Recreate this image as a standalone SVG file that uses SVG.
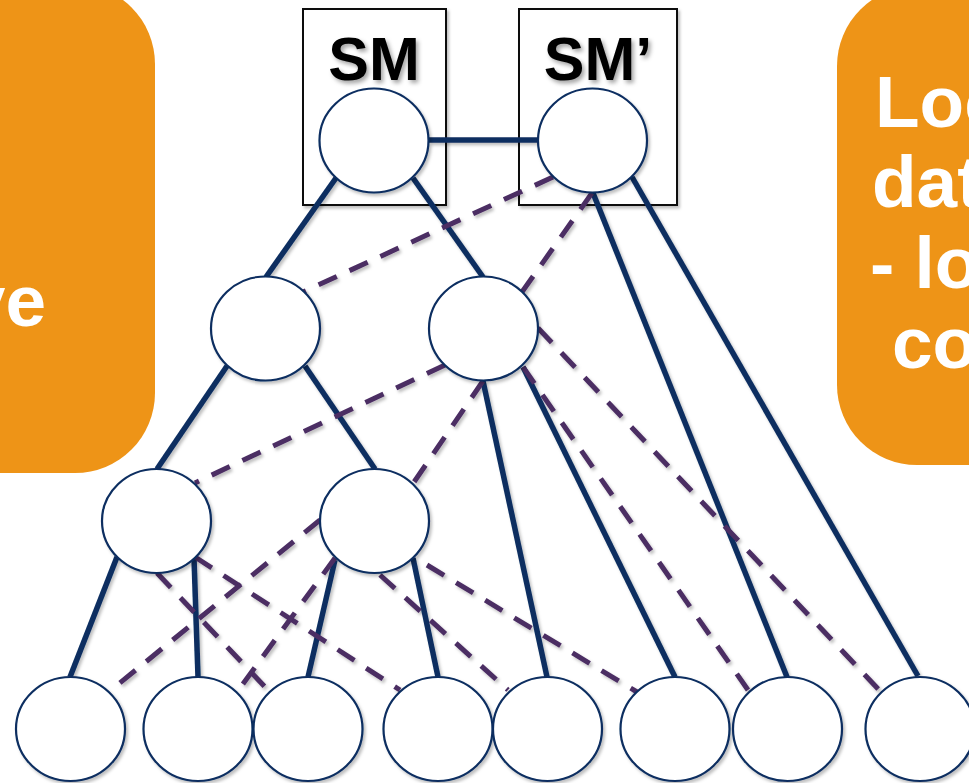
<svg xmlns="http://www.w3.org/2000/svg" width="969" height="783" viewBox="0 0 969 783">
  <defs>
    <filter id="shade" x="-20%" y="-20%" width="140%" height="140%">
      <feDropShadow dx="2" dy="2.5" stdDeviation="1.6" flood-color="#000" flood-opacity="0.25"/>
    </filter>
    <filter id="textShade" x="-20%" y="-20%" width="140%" height="140%">
      <feDropShadow dx="2.5" dy="3" stdDeviation="2" flood-color="#000" flood-opacity="0.35"/>
    </filter>
  </defs>
  <style>
    .callout { fill: #EE9417; }
    .callout-text { fill: #ffffff; font-family: "Liberation Sans", Arial, sans-serif; font-weight: bold; font-size: 73px; }
    .frame { fill: #ffffff; stroke: #111111; stroke-width: 2; }
    .frame-label { fill: #000000; font-family: "Liberation Sans", Arial, sans-serif; font-weight: bold; font-size: 61px; text-anchor: middle; }
    .node { fill: #ffffff; stroke: #0a2d60; stroke-width: 2.2; }
    .edge { stroke: #0a2d60; stroke-width: 5.5; fill: none; }
    .link { stroke: #4b2d63; stroke-width: 5; fill: none; stroke-dasharray: 20 14; }
  </style>

  <!-- side callouts (cropped at the canvas edges) -->
  <g id="callout-left">
    <rect class="callout" x="-200" y="-16" width="355" height="489" rx="80" ry="80"/>
    <text class="callout-text" x="46" y="326" text-anchor="end">ve</text>
  </g>
  <g id="callout-right">
    <rect class="callout" x="837" y="-14" width="300" height="479" rx="80" ry="80"/>
    <text class="callout-text" x="875" y="127">Loc</text>
    <text class="callout-text" x="872" y="207">dat</text>
    <text class="callout-text" x="870" y="288">- lo</text>
    <text class="callout-text" x="892" y="368">co</text>
  </g>

  <!-- SM frames -->
  <g id="frame-sm" filter="url(#shade)">
    <rect class="frame" x="303" y="9" width="143" height="196"/>
  </g>
  <g id="frame-sm-prime" filter="url(#shade)">
    <rect class="frame" x="519" y="9" width="158" height="196"/>
  </g>
  <g id="frame-labels" filter="url(#textShade)">
    <text class="frame-label" x="374" y="80">SM</text>
    <text class="frame-label" x="598" y="80">SM’</text>
  </g>

  <!-- connectors -->
  <g id="connectors" filter="url(#shade)">
    <!-- tree edges -->
    <line class="edge" x1="429" y1="140" x2="538" y2="140"/>
    <line class="edge" x1="336" y1="178" x2="266" y2="277"/>
    <line class="edge" x1="413" y1="178" x2="483" y2="277"/>
    <line class="edge" x1="593" y1="193" x2="787" y2="677"/>
    <line class="edge" x1="632" y1="177" x2="918" y2="676"/>
    <line class="edge" x1="227" y1="366" x2="157" y2="469"/>
    <line class="edge" x1="305" y1="366" x2="375" y2="469"/>
    <line class="edge" x1="483" y1="381" x2="547" y2="677"/>
    <line class="edge" x1="523" y1="367" x2="675" y2="677"/>
    <line class="edge" x1="117" y1="557" x2="70" y2="677"/>
    <line class="edge" x1="194" y1="558" x2="198" y2="677"/>
    <line class="edge" x1="335" y1="560" x2="308" y2="677"/>
    <line class="edge" x1="413" y1="558" x2="438" y2="677"/>
    <!-- cross links -->
    <line class="link" x1="553" y1="177" x2="303" y2="292"/>
    <line class="link" x1="592" y1="193" x2="522" y2="292"/>
    <line class="link" x1="445" y1="365" x2="195" y2="483"/>
    <line class="link" x1="483" y1="381" x2="412" y2="485"/>
    <line class="link" x1="523" y1="367" x2="748" y2="690"/>
    <line class="link" x1="538" y1="328" x2="881" y2="692"/>
    <line class="link" x1="157" y1="573" x2="268" y2="690"/>
    <line class="link" x1="195" y1="557" x2="400" y2="690"/>
    <line class="link" x1="320" y1="520" x2="110" y2="691"/>
    <line class="link" x1="335" y1="558" x2="237" y2="692"/>
    <line class="link" x1="380" y1="575" x2="508" y2="690"/>
    <line class="link" x1="427" y1="565" x2="637" y2="692"/>
  </g>

  <!-- nodes -->
  <g id="node-sm" filter="url(#shade)"><ellipse class="node" cx="374" cy="140.5" rx="54.5" ry="52"/></g>
  <g id="node-sm-prime" filter="url(#shade)"><ellipse class="node" cx="592.5" cy="140.5" rx="54.5" ry="52"/></g>
  <g id="node-a" filter="url(#shade)"><ellipse class="node" cx="265.5" cy="328.5" rx="54.5" ry="52"/></g>
  <g id="node-b" filter="url(#shade)"><ellipse class="node" cx="483.5" cy="328.5" rx="54.5" ry="52"/></g>
  <g id="node-c" filter="url(#shade)"><ellipse class="node" cx="156.5" cy="521" rx="54.5" ry="52"/></g>
  <g id="node-d" filter="url(#shade)"><ellipse class="node" cx="374.5" cy="521" rx="54.5" ry="52"/></g>
  <g id="leaf-1" filter="url(#shade)"><ellipse class="node" cx="70.5" cy="729" rx="54.5" ry="52"/></g>
  <g id="leaf-2" filter="url(#shade)"><ellipse class="node" cx="198" cy="729" rx="54.5" ry="52"/></g>
  <g id="leaf-3" filter="url(#shade)"><ellipse class="node" cx="308" cy="729" rx="54.5" ry="52"/></g>
  <g id="leaf-4" filter="url(#shade)"><ellipse class="node" cx="438" cy="729" rx="54.5" ry="52"/></g>
  <g id="leaf-5" filter="url(#shade)"><ellipse class="node" cx="547.5" cy="729" rx="54.5" ry="52"/></g>
  <g id="leaf-6" filter="url(#shade)"><ellipse class="node" cx="675" cy="729" rx="54.5" ry="52"/></g>
  <g id="leaf-7" filter="url(#shade)"><ellipse class="node" cx="787.5" cy="729" rx="54.5" ry="52"/></g>
  <g id="leaf-8" filter="url(#shade)"><ellipse class="node" cx="920" cy="729" rx="54.5" ry="52"/></g>
</svg>
